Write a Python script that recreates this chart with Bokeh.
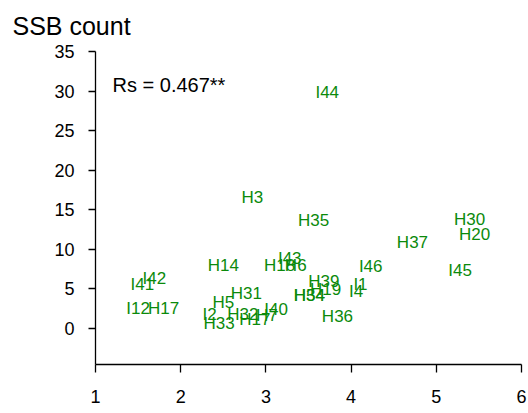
from bokeh.plotting import figure
from bokeh.models import ColumnDataSource, Range1d, FixedTicker, Label
from bokeh.core.properties import value
from bokeh.embed import file_html
from bokeh.resources import INLINE

# Sample labels with their x values and SSB counts
labels = ["I44", "H3", "H35", "H30", "H20", "H37", "H14", "H18", "H6", "I43",
          "I46", "I45", "I42", "I41", "H39", "I1", "I4", "H19", "H34", "H54",
          "H31", "H5", "I12", "H17", "I2", "H33", "H32", "H17", "H7", "I40", "H36"]
x_vals = [3.72, 2.84, 3.56, 5.39, 5.45, 4.72, 2.50, 3.16, 3.35, 3.28,
          4.23, 5.28, 1.69, 1.55, 3.68, 4.11, 4.06, 3.70, 3.51, 3.51,
          2.77, 2.50, 1.50, 1.80, 2.34, 2.45, 2.73, 2.87, 3.01, 3.12, 3.84]
ssb_counts = [29.8, 16.6, 13.7, 13.8, 11.9, 10.9, 7.9, 8.0, 8.0, 8.9,
              7.85, 7.3, 6.3, 5.5, 5.9, 5.5, 4.7, 4.9, 4.2, 4.2,
              4.4, 3.3, 2.5, 2.5, 1.8, 0.6, 1.8, 1.1, 1.6, 2.4, 1.5]

x_ticks = [1, 2, 3, 4, 5, 6]
y_ticks = [0, 5, 10, 15, 20, 25, 30, 35]
correlation_text = "Rs = 0.467**"

FONT = "Liberation Sans"
GREEN = "#0b8a0b"

src = ColumnDataSource(dict(label=labels, x=x_vals, y=ssb_counts))

p = figure(width=528, height=413, output_backend="svg", toolbar_location=None,
           x_range=Range1d(1, 6), y_range=Range1d(-4.56, 35),
           min_border_left=95, min_border_right=7,
           min_border_top=51, min_border_bottom=49,
           title="SSB count")
p.outline_line_color = None
p.xgrid.visible = False
p.ygrid.visible = False
p.background_fill_color = "white"
p.border_fill_color = "white"

# Axis title at the top left, above the vertical axis
p.title.text_font = FONT
p.title.text_font_size = "25px"
p.title.text_font_style = "normal"
p.title.text_color = "black"
p.title.align = "left"
p.title.vertical_align = "top"
p.title.offset = -83
p.title.standoff = 20

p.text(x="x", y="y", text="label", source=src,
       text_font=value(FONT), text_font_size="17px", text_color=GREEN,
       text_align="center", text_baseline="middle")

for ax in (p.xaxis, p.yaxis):
    ax.axis_line_color = "black"
    ax.axis_line_width = 1.3
    ax.major_tick_line_color = "black"
    ax.major_tick_line_width = 1.3
    ax.minor_tick_line_color = None
    ax.major_tick_in = 0
    ax.major_label_text_font = FONT
    ax.major_label_text_font_size = "18px"
    ax.major_label_text_color = "black"

p.xaxis.ticker = FixedTicker(ticks=x_ticks)
p.yaxis.ticker = FixedTicker(ticks=y_ticks)
p.xaxis.major_tick_out = 8
p.yaxis.major_tick_out = 7
p.xaxis.major_label_standoff = 17
p.yaxis.major_label_standoff = 14

p.add_layout(Label(x=1.2, y=30.8, text=correlation_text,
                   text_font=FONT, text_font_size="20px", text_color="black",
                   text_align="left", text_baseline="middle"))

open("out.html", "w").write(file_html(p, INLINE))
